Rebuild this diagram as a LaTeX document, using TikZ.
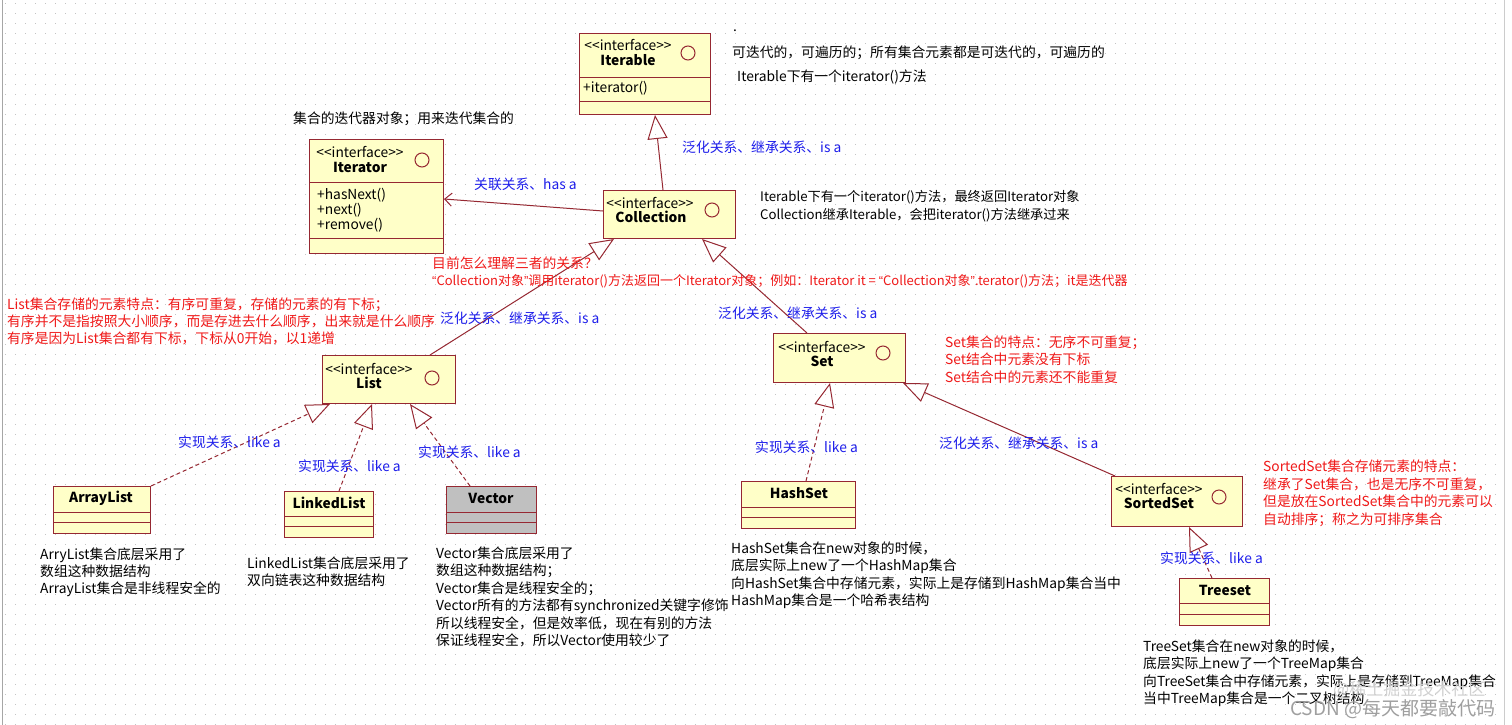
\documentclass[tikz,border=0pt]{standalone}
\usepackage{fontspec}
\newfontfamily\cjk{Noto Sans CJK SC}
\newfontfamily\qfont{Liberation Sans}
\usetikzlibrary{arrows.meta}
\definecolor{boxfill}{RGB}{255,255,200}
\definecolor{umlred}{RGB}{150,40,50}
\definecolor{lblue}{RGB}{30,30,235}
\definecolor{nred}{RGB}{240,25,25}
\definecolor{vgray}{RGB}{192,192,192}
\definecolor{dotc}{RGB}{195,195,195}
\newcommand{\myoq}{{\qfont “}}
\newcommand{\mycq}{{\qfont ”}}
\tikzset{
  umlbox/.style={draw=umlred, fill=boxfill, line width=1pt, inner sep=0pt, anchor=north west},
  umlline/.style={draw=umlred, line width=1pt},
  ifc/.style={draw=umlred, line width=1pt, circle, inner sep=0pt, minimum size=14pt},
  txt/.style={inner sep=0pt, anchor=west, font=\cjk\fontsize{13.8}{17.5}\selectfont},
  para/.style={inner sep=0pt, anchor=north west, align=left, font=\cjk\fontsize{13.8}{17.5}\selectfont},
  itf/.style={inner sep=0pt, font=\cjk\fontsize{13.8}{16}\selectfont},
  nm/.style={inner sep=0pt, font=\cjk\bfseries\fontsize{13.8}{16}\selectfont},
  rd/.style={text=nred}, bl/.style={text=lblue},
  gen/.style={draw=umlred, line width=1pt, -{Triangle[open, length=24pt, width=20pt]}},
  real/.style={gen, dash pattern=on 4pt off 3pt},
  assoc/.style={draw=umlred, line width=1pt, -{Straight Barb[length=7pt, width=13pt]}},
}
\begin{document}
\begin{tikzpicture}[x=1pt,y=-1pt]
\useasboundingbox (0,0) rectangle (1512,725);
\fill[white] (0,0) rectangle (1512,725);
% dotted grid
\foreach \gy in {4,14,...,724}
  \draw[dotc, line width=1pt, dash pattern=on 1pt off 9pt] (5,\gy) -- (1500,\gy);
\draw[gray!70, line width=1pt] (2,0) -- (2,725);
\draw[gray!40, line width=1pt] (1504,0) -- (1504,725);

% ---------- boxes ----------
\node[umlbox, minimum width=131pt, minimum height=81pt] (iterable) at (579,33) {};
\draw[umlline] ([yshift=-44pt]iterable.north west) -- ([yshift=-44pt]iterable.north east);
\draw[umlline] ([yshift=-68pt]iterable.north west) -- ([yshift=-68pt]iterable.north east);
\node[itf] (iterableS) at (628,45) {<<interface>>};
\node[nm] (iterableN) at (628,60) {Iterable};
\node[itf, anchor=west] (iterableM) at (583,88) {+iterator()};
\node[ifc] (iterableC) at (688,53) {};

\node[umlbox, minimum width=134pt, minimum height=114pt] (iterator) at (309,139) {};
\draw[umlline] ([yshift=-43pt]iterator.north west) -- ([yshift=-43pt]iterator.north east);
\draw[umlline] ([yshift=-99pt]iterator.north west) -- ([yshift=-99pt]iterator.north east);
\node[itf] (iteratorS) at (360,152) {<<interface>>};
\node[nm] (iteratorN) at (360,167) {Iterator};
\node[itf, anchor=north west, align=left, font=\cjk\fontsize{13.8}{15}\selectfont] (iteratorM) at (317,188.5) {+hasNext()\\+next()\\+remove()};
\node[ifc] (iteratorC) at (422,160) {};

\node[umlbox, minimum width=132pt, minimum height=48pt] (collection) at (603,190) {};
\node[itf] (collectionS) at (650,203) {<<interface>>};
\node[nm] (collectionN) at (651,217) {Collection};
\node[ifc] (collectionC) at (712,210) {};

\node[umlbox, minimum width=133pt, minimum height=48pt] (list) at (322,355) {};
\node[itf] (listS) at (369,369) {<<interface>>};
\node[nm] (listN) at (369,383) {List};
\node[ifc] (listC) at (432,378) {};

\node[umlbox, minimum width=132pt, minimum height=49pt] (set) at (773,333) {};
\node[itf] (setS) at (822,347) {<<interface>>};
\node[nm] (setN) at (822,361) {Set};
\node[ifc] (setC) at (883,353) {};

\node[umlbox, minimum width=131pt, minimum height=50pt] (sortedset) at (1111,476) {};
\node[itf] (sortedsetS) at (1159,489) {<<interface>>};
\node[nm] (sortedsetN) at (1159,503) {SortedSet};
\node[ifc] (sortedsetC) at (1219,497) {};

\node[umlbox, minimum width=97pt, minimum height=47pt] (arraylist) at (53,486) {};
\draw[umlline] ([yshift=-26pt]arraylist.north west) -- ([yshift=-26pt]arraylist.north east);
\draw[umlline] ([yshift=-36pt]arraylist.north west) -- ([yshift=-36pt]arraylist.north east);
\node[nm] (arraylistN) at (101,498) {ArrayList};

\node[umlbox, minimum width=89pt, minimum height=46pt] (linkedlist) at (284,491) {};
\draw[umlline] ([yshift=-25pt]linkedlist.north west) -- ([yshift=-25pt]linkedlist.north east);
\draw[umlline] ([yshift=-35pt]linkedlist.north west) -- ([yshift=-35pt]linkedlist.north east);
\node[nm] (linkedlistN) at (329,503) {LinkedList};

\node[umlbox, fill=vgray, minimum width=90pt, minimum height=47pt] (vector) at (446,486) {};
\draw[umlline] ([yshift=-26pt]vector.north west) -- ([yshift=-26pt]vector.north east);
\draw[umlline] ([yshift=-36pt]vector.north west) -- ([yshift=-36pt]vector.north east);
\node[nm] (vectorN) at (491,498) {Vector};

\node[umlbox, minimum width=114pt, minimum height=47pt] (hashset) at (741,481) {};
\draw[umlline] ([yshift=-26pt]hashset.north west) -- ([yshift=-26pt]hashset.north east);
\draw[umlline] ([yshift=-36pt]hashset.north west) -- ([yshift=-36pt]hashset.north east);
\node[nm] (hashsetN) at (799,493) {HashSet};

\node[umlbox, minimum width=90pt, minimum height=47pt] (treeset) at (1179,578) {};
\draw[umlline] ([yshift=-25pt]treeset.north west) -- ([yshift=-25pt]treeset.north east);
\draw[umlline] ([yshift=-36pt]treeset.north west) -- ([yshift=-36pt]treeset.north east);
\node[nm] (treesetN) at (1225,590) {Treeset};

% ---------- connectors ----------
\draw[gen] ([xshift=60pt]collection.north west) -- ([xshift=76pt]iterable.south west);
\draw[assoc] ([yshift=-21pt]collection.north west) -- ([yshift=-60pt]iterator.north east);
\draw[gen] ([xshift=108pt]list.north west) -- ([xshift=11pt]collection.south west);
\draw[gen] ([xshift=34pt]set.north west) -- ([xshift=99pt]collection.south west);
\draw[real] (arraylist.north east) -- ([xshift=8pt]list.south west);
\draw[real] ([xshift=55pt]linkedlist.north west) -- ([xshift=50pt]list.south west);
\draw[real] ([xshift=24pt]vector.north west) -- ([xshift=88pt]list.south west);
\draw[real] ([xshift=65pt]hashset.north west) -- ([xshift=57pt]set.south west);
\draw[gen] ([xshift=4pt]sortedset.north west) -- ([xshift=-3pt]set.south east);
\draw[real] ([xshift=33pt]treeset.north west) -- ([xshift=78pt]sortedset.south west);

% ---------- relation labels ----------
\node[txt, bl] (l1) at (682,147) {泛化关系、继承关系、is a};
\node[txt, bl] (l2) at (474,184) {关联关系、has a};
\node[txt, bl] (l3) at (440,318) {泛化关系、继承关系、is a};
\node[txt, bl] (l4) at (718,313) {泛化关系、继承关系、is a};
\node[txt, bl] (l5) at (178,442) {实现关系、like a};
\node[txt, bl] (l6) at (298,466) {实现关系、like a};
\node[txt, bl] (l7) at (418,452) {实现关系、like a};
\node[txt, bl] (l8) at (755,447) {实现关系、like a};
\node[txt, bl] (l9) at (939,443) {泛化关系、继承关系、is a};
\node[txt, bl] (l10) at (1160,558) {实现关系、like a};

% ---------- notes ----------
\node[txt] (dot) at (733,31) {.};
\node[txt] (n1) at (732,53) {可迭代的，可遍历的；所有集合元素都是可迭代的，可遍历的};
\node[txt] (n2) at (737,77) {Iterable下有一个iterator()方法};
\node[txt] (n3) at (293,119) {集合的迭代器对象；用来迭代集合的};
\node[para, font=\cjk\fontsize{13.2}{17.5}\selectfont] (n4) at (760,190.5) {Iterable下有一个iterator()方法，最终返回Iterator对象\\Collection继承Iterable，会把iterator()方法继承过来};
\node[para, rd] (n5) at (432,256.5) {目前怎么理解三者的关系？\\{\fontsize{13}{17.5}\selectfont\myoq Collection对象\mycq 调用iterator()方法返回一个Iterator对象；例如：Iterator it = \myoq Collection对象\mycq.terator()方法；it是迭代器}};
\node[para, rd, font=\cjk\fontsize{13.8}{17}\selectfont] (n6) at (7,297.5) {List集合存储的元素特点：有序可重复，存储的元素的有下标；\\有序并不是指按照大小顺序，而是存进去什么顺序，出来就是什么顺序\\有序是因为List集合都有下标，下标从0开始，以1递增};
\node[para, rd] (n7) at (945,335.5) {Set集合的特点：无序不可重复；\\Set结合中元素没有下标\\Set结合中的元素还不能重复};
\node[para, rd, font=\cjk\fontsize{13.8}{17.8}\selectfont] (n8) at (1263,459.5) {SortedSet集合存储元素的特点：\\继承了Set集合，也是无序不可重复，\\但是放在SortedSet集合中的元素可以\\自动排序；称之为可排序集合};
\node[para, font=\cjk\fontsize{13.8}{17}\selectfont] (n9) at (40,547.5) {ArryList集合底层采用了\\数组这种数据结构\\ArrayList集合是非线程安全的};
\node[para] (n10) at (247,556.5) {LinkedList集合底层采用了\\双向链表这种数据结构};
\node[para] (n11) at (436,546.5) {Vector集合底层采用了\\数组这种数据结构；\\Vector集合是线程安全的；\\Vector所有的方法都有synchronized关键字修饰\\所以线程安全，但是效率低，现在有别的方法\\保证线程安全，所以Vector使用较少了};
\node[para] (n12) at (731,541.5) {HashSet集合在new对象的时候，\\底层实际上new了一个HashMap集合\\向HashSet集合中存储元素，实际上是存储到HashMap集合当中\\HashMap集合是一个哈希表结构};
\node[para] (n13) at (1143,639.5) {TreeSet集合在new对象的时候，\\底层实际上new了一个TreeMap集合\\向TreeSet集合中存储元素，实际上是存储到TreeMap集合\\当中TreeMap集合是一个二叉树结构};

% ---------- watermark ----------
\node[txt, text=gray!35, font=\cjk\fontsize{17}{17}\selectfont] (wm1) at (1333,690) {@稀土掘金技术社区};
\node[txt, text=gray!75, font=\cjk\fontsize{19}{19}\selectfont] (wm2) at (1290,709) {CSDN @每天都要敲代码};
\end{tikzpicture}
\end{document}
